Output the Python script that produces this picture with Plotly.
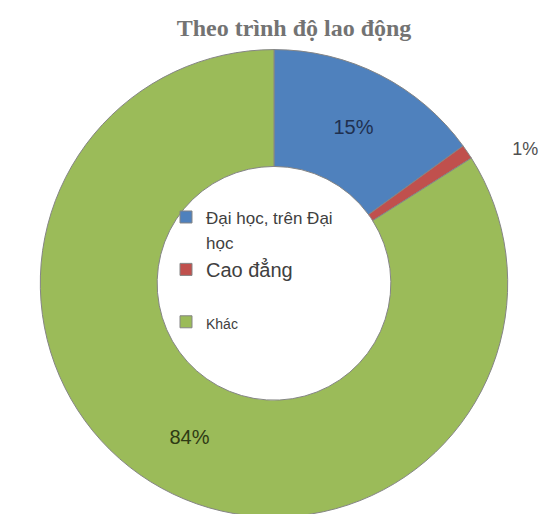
import plotly.graph_objects as go

labels = [
    "<span style='font-size:17px'>Đại học, trên Đại</span><br><span style='font-size:17px'>học</span>",
    "<span style='font-size:20px'>Cao đẳng</span><br> ",
    "<span style='font-size:14px'>Khác</span>",
]
values = [15, 1, 84]
colors = ["#4F81BD", "#C0504D", "#9BBB59"]
text_colors = ["#1F3050", "#505050", "#2E3A14"]
text_sizes = [20, 18, 20]
text_positions = ["inside", "outside", "inside"]
text_templates = ["%{percent}", "\u00a0" * 8 + "%{percent}", "%{percent}"]
title_text = "Theo trình độ lao động"

fig = go.Figure(go.Pie(
    labels=labels,
    values=values,
    sort=False,
    direction="clockwise",
    rotation=0,
    hole=0.5,
    texttemplate=text_templates,
    textposition=text_positions,
    insidetextorientation="horizontal",
    textfont=dict(family="Liberation Sans, Arial, sans-serif", size=text_sizes, color=text_colors),
    marker=dict(colors=colors, line=dict(color="#858585", width=1)),
    domain=dict(x=[30/548, 502/548], y=[0, 472/514]),
))

fig.update_layout(
    width=548, height=514,
    margin=dict(l=0, r=0, t=0, b=0),
    paper_bgcolor="white",
    plot_bgcolor="white",
    title=dict(
        text="<b>" + title_text + "</b>",
        x=286/548, xanchor="center",
        y=1 - 20/514, yref="container", yanchor="middle",
        font=dict(family="Liberation Serif, Times New Roman, serif", size=24, color="#737373"),
    ),
    legend=dict(
        x=158/548, xanchor="left",
        y=1 - 192/514, yanchor="top",
        bgcolor="rgba(0,0,0,0)",
        font=dict(family="Liberation Sans, Arial, sans-serif", size=19, color="#404040"),
        valign="top",
        itemwidth=30,
    ),
    showlegend=True,
)

fig.write_html("out.html")
